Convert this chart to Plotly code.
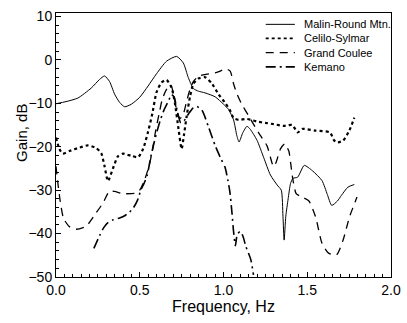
import plotly.graph_objects as go

# Malin-Round Mtn. (solid)
malin_x = [0.00, 0.06, 0.13, 0.21, 0.26, 0.29, 0.32, 0.35, 0.38, 0.41, 0.45, 0.50, 0.55, 0.60, 0.66,
           0.72, 0.76, 0.79, 0.82, 0.85, 0.89, 0.95, 1.00, 1.03, 1.06, 1.08, 1.093, 1.115, 1.14, 1.16,
           1.20, 1.24, 1.28, 1.32, 1.345, 1.355, 1.362, 1.372, 1.386, 1.40, 1.414, 1.443, 1.482, 1.53,
           1.588, 1.62, 1.646, 1.68, 1.704, 1.743, 1.781]
malin_y = [-10.1, -9.6, -8.8, -6.5, -4.5, -3.7, -5.0, -7.9, -9.8, -10.8, -10.2, -8.6, -6.0, -3.2, -0.3,
           0.8, -0.7, -4.1, -6.6, -7.2, -7.6, -8.5, -10.2, -11.4, -13.8, -17.5, -18.9, -16.8, -15.3, -16.0,
           -18.5, -22.5, -26.5, -28.8, -30.0, -36.0, -41.5, -36.0, -32.0, -28.5, -27.3, -27.0, -24.3, -25.5,
           -27.8, -31.0, -33.5, -32.5, -31.2, -29.3, -28.7]

# Celilo-Sylmar (dotted)
celilo_x = [0.00, 0.02, 0.04, 0.08, 0.14, 0.19, 0.24, 0.27, 0.29, 0.31, 0.34, 0.37, 0.40, 0.45, 0.49,
            0.52, 0.55, 0.575, 0.60, 0.63, 0.66, 0.69, 0.71, 0.73, 0.75, 0.765, 0.78, 0.80, 0.82, 0.85,
            0.89, 0.93, 0.97, 1.01, 1.04, 1.06, 1.09, 1.14, 1.20, 1.25, 1.30, 1.36, 1.41, 1.443, 1.472,
            1.55, 1.635, 1.66, 1.675, 1.714, 1.751, 1.781]
celilo_y = [-17.9, -20.5, -21.6, -21.0, -20.2, -19.7, -20.3, -21.5, -24.5, -27.9, -25.0, -22.2, -21.6, -22.1, -22.4,
            -20.5, -16.5, -12.4, -7.5, -5.2, -4.6, -6.4, -10.0, -15.5, -20.5, -17.0, -13.0, -8.5, -5.5, -4.3,
            -4.0, -5.4, -7.9, -9.9, -11.7, -13.4, -13.8, -13.6, -14.2, -14.5, -14.8, -15.2, -15.0, -16.7, -15.9,
            -16.3, -16.7, -18.5, -19.0, -18.6, -16.3, -13.3]

# Grand Coulee (dashed)
coulee_x = [0.00, 0.01, 0.025, 0.045, 0.08, 0.12, 0.18, 0.24, 0.28, 0.32, 0.35, 0.40, 0.47, 0.50, 0.53,
            0.555, 0.575, 0.595, 0.615, 0.635, 0.66, 0.685, 0.70, 0.72, 0.74, 0.76, 0.78, 0.80, 0.82, 0.85,
            0.90, 0.95, 0.98, 1.01, 1.04, 1.06, 1.08, 1.105, 1.15, 1.21, 1.26, 1.29, 1.30, 1.315, 1.34,
            1.366, 1.39, 1.40, 1.414, 1.434, 1.47, 1.51, 1.55, 1.588, 1.627, 1.675, 1.714, 1.752, 1.797]
coulee_y = [-24.5, -28.0, -32.5, -36.5, -38.4, -39.0, -38.3, -35.2, -33.0, -30.2, -30.3, -30.8, -30.7, -30.0, -27.5,
            -24.5, -21.0, -16.3, -12.5, -9.0, -6.8, -5.8, -7.5, -11.5, -13.5, -12.5, -9.5, -6.8, -5.0, -3.8,
            -3.3, -3.0, -2.6, -2.0, -2.6, -5.5, -7.8, -9.9, -12.9, -16.8, -19.8, -23.8, -24.6, -23.5, -20.5,
            -19.3, -21.0, -23.5, -27.5, -30.8, -31.6, -32.5, -36.2, -42.2, -44.5, -44.9, -41.5, -36.2, -31.6]

# Kemano (dash-dot)
kemano_x = [0.226, 0.26, 0.284, 0.31, 0.342, 0.38, 0.41, 0.458, 0.487, 0.506, 0.525, 0.545, 0.565, 0.584,
            0.603, 0.622, 0.645, 0.671, 0.69, 0.705, 0.725, 0.745, 0.765, 0.79, 0.815, 0.84, 0.873, 0.912,
            0.951, 0.985, 1.009, 1.025, 1.038, 1.05, 1.06, 1.071, 1.082, 1.10, 1.115, 1.134, 1.163, 1.179]
kemano_y = [-43.4, -40.5, -38.7, -37.5, -36.8, -36.4, -35.9, -34.3, -32.3, -30.0, -28.5, -26.5, -22.5, -19.3,
            -16.5, -14.0, -11.5, -9.5, -8.0, -8.5, -12.0, -14.5, -14.0, -12.5, -11.2, -10.7, -11.7, -15.6,
            -19.8, -22.8, -24.7, -27.5, -30.4, -35.0, -39.5, -42.8, -40.2, -39.5, -40.5, -43.0, -46.0, -49.5]

series_names = ["Malin-Round Mtn.", "Celilo-Sylmar", "Grand Coulee", "Kemano"]

x_ticks = [0.0, 0.5, 1.0, 1.5, 2.0]
x_tick_labels = ["0.0", "0.5", "1.0", "1.5", "2.0"]
y_ticks = [10, 0, -10, -20, -30, -40, -50]

font_family = "Liberation Sans, Arial, sans-serif"

styles = [
    dict(color="black", width=1),
    dict(color="black", width=2.2, dash="dot"),
    dict(color="black", width=1.3, dash="8px,6px"),
    dict(color="black", width=1.6, dash="10px,4px,2px,4px"),
]
series = [(malin_x, malin_y), (celilo_x, celilo_y), (coulee_x, coulee_y), (kemano_x, kemano_y)]

fig = go.Figure()
for (xs, ys), name, st in zip(series, series_names, styles):
    fig.add_trace(go.Scatter(x=xs, y=ys, mode="lines", name=name, showlegend=False,
                             line=dict(shape="spline", smoothing=0.6, **st)))

# compact hand-built legend (paper coordinates)
leg_rows = [0.957, 0.904, 0.850, 0.796]
for name, st, yy in zip(series_names, styles, leg_rows):
    fig.add_shape(type="line", xref="paper", yref="paper", x0=0.626, x1=0.713, y0=yy, y1=yy,
                  line=dict(color=st["color"], width=min(st["width"], 1.6), dash=st.get("dash", "solid")))
    fig.add_annotation(xref="paper", yref="paper", x=0.733, y=yy, text=name, showarrow=False,
                       xanchor="left", yanchor="middle", font=dict(size=11, family=font_family, color="black"))

# y-axis title placed as in the reference (slightly above centre)
fig.add_annotation(xref="paper", yref="paper", x=-0.105, y=0.545, text="Gain, dB", textangle=-90,
                   showarrow=False, xanchor="center", yanchor="middle",
                   font=dict(size=15, family=font_family, color="black"))

fig.update_layout(
    width=407, height=323,
    margin=dict(l=56, r=6, t=13, b=46),
    paper_bgcolor="white", plot_bgcolor="white",
    font=dict(family=font_family, color="black", size=14),
    showlegend=False,
)
fig.update_xaxes(range=[0, 2], tickvals=x_ticks, ticktext=x_tick_labels,
                 showgrid=False, zeroline=False, showline=True, linecolor="black", linewidth=1,
                 mirror=True, ticks="inside", ticklen=5, tickcolor="black",
                 ticklabeloverflow="allow",
                 minor=dict(dtick=0.05, ticks="inside", ticklen=3, tickcolor="black"),
                 title=dict(text="Frequency, Hz", font=dict(size=16), standoff=1),
                 tickfont=dict(size=14))
fig.update_yaxes(range=[-50, 10.8], tickvals=y_ticks,
                 showgrid=False, zeroline=False, showline=True, linecolor="black", linewidth=1,
                 mirror=True, ticks="inside", ticklen=5, tickcolor="black",
                 minor=dict(dtick=2, ticks="inside", ticklen=3, tickcolor="black"),
                 tickfont=dict(size=14))

fig.write_html("out.html",
               config={"displayModeBar": False},
               post_script="document.body.style.margin='0';document.body.style.padding='0';"
                           "document.documentElement.style.overflow='hidden';")
